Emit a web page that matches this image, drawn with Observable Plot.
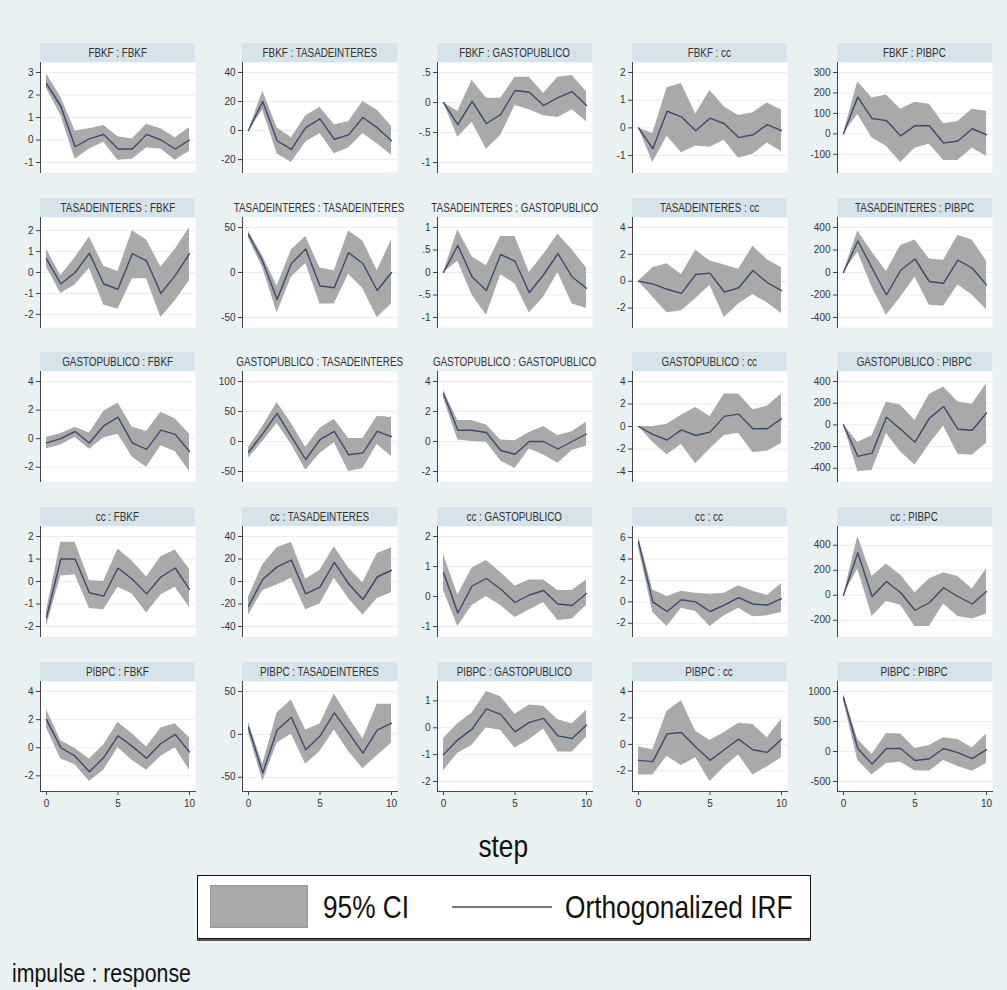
<!DOCTYPE html>
<html>
<head>
<meta charset="utf-8">
<script src="https://cdn.jsdelivr.net/npm/d3@7"></script>
<script src="https://cdn.jsdelivr.net/npm/@observablehq/plot@0.6"></script>
<style>
  html, body { margin: 0; padding: 0; background: #e9f1f3; }
  #chart {
    position: relative; width: 1007px; height: 990px; overflow: hidden;
    background: #e9f1f3;
    font-family: "Liberation Sans", Arial, sans-serif;
    color: #222;
  }
  /* narrow lettering, as in Stata's default graph font */
  .narrow { display: inline-block; white-space: nowrap; transform: scaleX(0.82); }
  .narrow.left { transform-origin: left center; }
  .strip {
    position: absolute; height: 19px; background: #d6e3eb;
    display: flex; justify-content: center; align-items: center;
    font-size: 12px; color: #333; white-space: nowrap;
  }
  .strip.bare { background: transparent; }
  .panel { position: absolute; }
  .panel svg { overflow: visible; }
</style>
</head>
<body>
<div id="chart"></div>
<script>
// Orthogonalized impulse responses, steps 0..10, one row per response variable
const steps = [0, 1, 2, 3, 4, 5, 6, 7, 8, 9, 10];
const variables = ["FBKF", "TASADEINTERES", "GASTOPUBLICO", "cc", "PIBPC"];

// impulse: FBKF
const irfFBKF = [
  [2.5, 1.5, -0.3, 0.05, 0.25, -0.4, -0.4, 0.25, 0.0, -0.4, 0.0],
  [0, 20, -7, -13, 2, 8, -6, -3, 9, 2, -7],
  [0, -0.37, 0.02, -0.35, -0.2, 0.2, 0.17, -0.05, 0.08, 0.18, -0.05],
  [0, -0.75, 0.6, 0.4, -0.1, 0.35, 0.15, -0.35, -0.25, 0.12, -0.1],
  [0, 180, 75, 65, -10, 40, 40, -45, -35, 25, -5]
];
const loFBKF = [
  [2.3, 1.1, -0.85, -0.4, -0.1, -0.9, -0.85, -0.35, -0.4, -0.9, -0.5],
  [0, 14, -16, -22, -8, -2, -16, -12, -2, -9, -17],
  [0, -0.58, -0.33, -0.78, -0.55, -0.05, -0.12, -0.22, -0.25, -0.12, -0.32],
  [0, -1.25, -0.3, -0.9, -0.65, -0.7, -0.45, -1.1, -0.95, -0.55, -0.85],
  [0, 95, -20, -60, -140, -70, -50, -130, -130, -70, -110]
];
const hiFBKF = [
  [2.95, 1.9, 0.4, 0.5, 0.65, 0.15, 0.05, 0.7, 0.5, 0.1, 0.55],
  [0, 27, 2, -5, 10, 16, 4, 6, 20, 14, 3],
  [0, -0.15, 0.37, 0.07, 0.07, 0.42, 0.42, 0.15, 0.42, 0.45, 0.18],
  [0, -0.2, 1.45, 1.6, 0.5, 1.35, 0.75, 0.45, 0.55, 0.9, 0.65],
  [0, 255, 175, 190, 120, 155, 145, 50, 60, 120, 110]
];

// impulse: TASADEINTERES
const irfTASA = [
  [0.65, -0.55, 0.0, 0.92, -0.55, -0.8, 0.9, 0.55, -1.0, -0.15, 0.9],
  [42, 12, -30, 10, 26, -15, -17, 22, 10, -20, 0],
  [0, 0.6, -0.1, -0.4, 0.4, 0.25, -0.45, -0.05, 0.42, -0.1, -0.35],
  [0, -0.2, -0.6, -0.9, 0.5, 0.6, -0.8, -0.5, 0.8, -0.1, -0.7],
  [0, 280, 40, -200, 20, 120, -80, -95, 110, 40, -110]
];
const loTASA = [
  [0.25, -1.0, -0.6, 0.2, -1.55, -1.75, -0.3, -0.3, -2.15, -1.35, -0.4],
  [38, 5, -45, -5, 10, -35, -35, -2, -18, -50, -35],
  [0, 0.25, -0.5, -0.95, -0.05, -0.25, -0.9, -0.55, 0.0, -0.7, -0.8],
  [0, -1.2, -2.35, -2.2, -1.3, -0.3, -2.7, -1.7, -1.0, -1.6, -2.4],
  [0, 180, -130, -380, -220, -40, -290, -300, -110, -200, -330]
];
const hiTASA = [
  [1.1, -0.15, 0.7, 1.7, 0.3, 0.05, 2.0, 1.55, 0.25, 1.1, 2.15],
  [46, 18, -15, 25, 40, 5, 2, 46, 35, 2, 36],
  [0, 0.95, 0.35, 0.15, 0.8, 0.8, 0.0, 0.4, 0.85, 0.5, 0.1],
  [0, 1.0, 1.3, 0.5, 2.3, 1.5, 1.2, 0.9, 2.6, 1.6, 1.0],
  [0, 370, 180, 10, 240, 290, 120, 110, 330, 290, 100]
];

// impulse: GASTOPUBLICO
const irfGASTO = [
  [-0.3, 0.0, 0.5, -0.3, 0.9, 1.5, -0.3, -0.75, 0.6, 0.3, -0.9],
  [-18, 13, 47, 8, -30, 3, 17, -22, -19, 17, 8],
  [3.2, 0.75, 0.75, 0.6, -0.6, -0.85, 0.0, 0.0, -0.5, 0.0, 0.5],
  [0, -0.7, -1.2, -0.3, -0.8, -0.5, 0.9, 1.1, -0.2, -0.2, 0.7],
  [0, -290, -260, 70, -40, -160, 60, 170, -40, -50, 110]
];
const loGASTO = [
  [-0.7, -0.45, 0.1, -0.75, 0.05, 0.3, -1.3, -2.0, -0.5, -0.9, -2.3],
  [-28, 0, 30, -5, -48, -20, -2, -50, -45, -5, -25],
  [2.9, 0.1, 0.0, -0.05, -1.3, -1.8, -0.5, -0.9, -1.45, -0.6, -0.3],
  [0, -1.4, -2.5, -1.6, -3.3, -2.0, -0.8, -0.6, -2.3, -2.2, -1.5],
  [0, -430, -420, -80, -250, -370, -180, -10, -270, -280, -170]
];
const hiGASTO = [
  [0.1, 0.35, 0.8, 0.4, 1.9, 2.5, 0.8, 0.5, 1.85, 1.4, 0.3],
  [-10, 25, 65, 30, -10, 22, 37, 5, 5, 42, 40],
  [3.4, 1.4, 1.4, 1.1, 0.1, 0.05, 0.6, 1.0, 0.4, 0.65, 1.3],
  [0, 0.0, 0.2, 1.0, 1.7, 0.9, 2.9, 2.9, 1.5, 1.8, 2.9],
  [0, -160, -100, 210, 180, 40, 280, 350, 210, 190, 380]
];

// impulse: cc
const irfCC = [
  [-1.6, 1.0, 1.0, -0.5, -0.65, 0.6, 0.1, -0.55, 0.2, 0.6, -0.35],
  [-22, 2, 13, 19, -11, -5, 17, -2, -16, 4, 10],
  [0.8, -0.55, 0.35, 0.6, 0.25, -0.2, 0.05, 0.2, -0.25, -0.3, 0.1],
  [5.6, 0.0, -0.9, 0.2, 0.0, -0.9, -0.3, 0.4, -0.2, -0.3, 0.3],
  [0, 340, -10, 110, 20, -120, -60, 60, -10, -70, 30]
];
const loCC = [
  [-2.0, 0.25, 0.3, -1.2, -1.25, -0.25, -0.55, -1.4, -0.6, -0.25, -1.15],
  [-30, -8, -3, 3, -25, -20, 3, -15, -30, -15, -10],
  [0.2, -1.0, -0.3, 0.0, -0.3, -0.7, -0.45, -0.2, -0.8, -0.75, -0.3],
  [5.1, -1.0, -2.3, -0.6, -0.9, -2.3, -1.3, -0.6, -1.4, -1.3, -1.0],
  [0, 210, -170, -50, -80, -250, -250, -70, -170, -190, -150]
];
const hiCC = [
  [-1.3, 1.75, 1.75, 0.05, 0.0, 1.45, 0.9, 0.2, 1.1, 1.4, 0.55],
  [-14, 15, 30, 35, 2, 10, 31, 12, -1, 25, 30],
  [1.4, 0.05, 0.95, 1.2, 0.8, 0.35, 0.55, 0.55, 0.2, 0.2, 0.55],
  [6.1, 1.1, 0.5, 1.0, 0.8, 0.7, 0.8, 1.5, 1.0, 0.6, 1.7],
  [0, 470, 150, 250, 160, 20, 130, 180, 150, 50, 210]
];

// impulse: PIBPC
const irfPIBPC = [
  [2.0, 0.0, -0.6, -1.7, -0.7, 0.85, 0.1, -0.75, 0.3, 0.95, -0.3],
  [8, -45, 5, 20, -18, -2, 25, 2, -22, 5, 13],
  [-1.0, -0.45, -0.05, 0.7, 0.5, -0.15, 0.2, 0.35, -0.3, -0.4, 0.1],
  [-1.2, -1.3, 0.8, 0.9, -0.2, -1.2, -0.4, 0.4, -0.4, -0.6, 0.4],
  [900, 50, -210, 50, 50, -150, -120, 50, -20, -120, 30]
];
const loPIBPC = [
  [1.4, -0.8, -1.2, -2.4, -1.6, 0.0, -0.9, -1.6, -0.6, 0.0, -1.6],
  [2, -55, -10, 0, -35, -20, 5, -20, -40, -25, -10],
  [-1.6, -0.95, -0.65, 0.0, -0.1, -0.75, -0.45, -0.05, -0.9, -0.9, -0.35],
  [-2.3, -2.3, -0.9, -1.6, -1.0, -2.8, -1.7, -0.8, -2.3, -1.7, -1.0],
  [840, -150, -390, -200, -180, -320, -330, -150, -250, -330, -200]
];
const hiPIBPC = [
  [2.7, 0.5, -0.05, -0.8, 0.2, 1.8, 1.0, 0.05, 1.4, 1.7, 0.7],
  [14, -35, 25, 40, 5, 12, 47, 20, -5, 35, 35],
  [-0.4, 0.15, 0.55, 1.35, 1.15, 0.5, 0.85, 0.8, 0.3, 0.15, 0.65],
  [-0.2, -0.4, 2.5, 3.3, 1.0, 0.3, 0.9, 1.6, 1.5, 0.5, 1.9],
  [960, 200, -50, 300, 290, 50, 100, 230, 200, 60, 290]
];

// y-axis tick values per panel (rows = impulse, columns = response)
const yTicks = [
  [[-1, 0, 1, 2, 3], [-20, 0, 20, 40], [-1, -0.5, 0, 0.5], [-1, 0, 1, 2], [-100, 0, 100, 200, 300]],
  [[-2, -1, 0, 1, 2], [-50, 0, 50], [-1, -0.5, 0, 0.5, 1], [-2, 0, 2, 4], [-400, -200, 0, 200, 400]],
  [[-2, 0, 2, 4], [-50, 0, 50, 100], [-2, 0, 2, 4], [-4, -2, 0, 2, 4], [-400, -200, 0, 200, 400]],
  [[-2, -1, 0, 1, 2], [-40, -20, 0, 20, 40], [-1, 0, 1, 2], [-2, 0, 2, 4, 6], [-200, 0, 200, 400]],
  [[-2, 0, 2, 4], [-50, 0, 50], [-2, -1, 0, 1], [-2, 0, 2, 4], [-500, 0, 500, 1000]]
];
const xTicks = [0, 5, 10];

const irf = [irfFBKF, irfTASA, irfGASTO, irfCC, irfPIBPC];
const lower = [loFBKF, loTASA, loGASTO, loCC, loPIBPC];
const upper = [hiFBKF, hiTASA, hiGASTO, hiCC, hiPIBPC];

// grid layout of the 5x5 panels
const colLeft = [40, 242, 437, 632, 837];
const rowTop = [43, 198, 352, 507, 662];
const plotW = 155, plotH = 110, stripH = 19, axisRoom = 40;

// Stata-style numbers: ".5", "-.5"
const fmt = d => String(d).replace(/^(-?)0\./, "$1.");

const chart = document.getElementById("chart");

variables.forEach((imp, i) => {
  variables.forEach((resp, j) => {
    const rows = steps.map((s, k) => ({
      step: s, irf: irf[i][j][k], lo: lower[i][j][k], hi: upper[i][j][k]
    }));
    const ticks = yTicks[i][j];
    const yMin = Math.min(ticks[0], d3.min(rows, d => d.lo));
    const yMax = Math.max(ticks[ticks.length - 1], d3.max(rows, d => d.hi));
    const last = i === variables.length - 1;

    // header strip; a title wider than the strip is drawn without the shaded box
    const strip = document.createElement("div");
    strip.className = "strip";
    strip.style.left = colLeft[j] + "px";
    strip.style.top = rowTop[i] + "px";
    strip.style.width = plotW + "px";
    const label = document.createElement("span");
    label.className = "narrow";
    label.textContent = `${imp} : ${resp}`;
    strip.appendChild(label);
    chart.appendChild(strip);
    if (label.getBoundingClientRect().width > plotW - 2) strip.classList.add("bare");

    const svg = Plot.plot({
      width: axisRoom + plotW,
      height: plotH + (last ? 30 : 0),
      marginLeft: axisRoom, marginRight: 0, marginTop: 0,
      marginBottom: last ? 30 : 0,
      style: {
        background: "transparent", overflow: "visible",
        fontFamily: '"Liberation Sans", Arial, sans-serif',
        fontSize: "10px", color: "#333"
      },
      x: {domain: [0, 10], insetLeft: 6, insetRight: 6, axis: null},
      y: {domain: [yMin, yMax], insetTop: 10, insetBottom: 10, axis: null},
      marks: [
        Plot.frame({fill: "white", stroke: "none"}),
        Plot.gridY(ticks, {stroke: "#e6eef1", strokeOpacity: 1, strokeWidth: 1}),
        Plot.areaY(rows, {x: "step", y1: "lo", y2: "hi", fill: "#a9a9a9"}),
        Plot.lineY(rows, {x: "step", y: "irf", stroke: "#3c4a6c", strokeWidth: 1.4}),
        Plot.axisY(ticks, {tickSize: 4, tickPadding: 3, tickFormat: fmt, stroke: "#444", fill: "#333", label: null}),
        Plot.frame({anchor: "left", stroke: "#444"}),
        last ? Plot.axisX(xTicks, {tickSize: 4, tickPadding: 4, tickFormat: fmt, stroke: "#444", fill: "#333", label: null}) : null,
        last ? Plot.frame({anchor: "bottom", stroke: "#444"}) : null
      ]
    });
    const holder = document.createElement("div");
    holder.className = "panel";
    holder.style.left = (colLeft[j] - axisRoom) + "px";
    holder.style.top = (rowTop[i] + stripH) + "px";
    holder.appendChild(svg);
    chart.appendChild(holder);
  });
});

// shared x-axis title
const stepTitle = document.createElement("div");
Object.assign(stepTitle.style, {
  position: "absolute", left: "0px", width: "1007px", top: "826px",
  textAlign: "center", fontSize: "32px", color: "#111", lineHeight: "40px"
});
stepTitle.innerHTML = `<span class="narrow">step</span>`;
chart.appendChild(stepTitle);

// legend
const legend = document.createElement("div");
Object.assign(legend.style, {
  position: "absolute", left: "197px", top: "875px", width: "612px", height: "62px",
  background: "white", border: "1.5px solid #111", boxShadow: "0 2px 0 #555"
});
legend.innerHTML = `
  <div style="position:absolute;left:12px;top:9px;width:98px;height:43px;background:#a9a9a9;border:1px solid #999;box-sizing:border-box"></div>
  <div style="position:absolute;left:125px;top:8px;height:46px;line-height:46px;font-size:32px;color:#111;white-space:nowrap"><span class="narrow left">95% CI</span></div>
  <svg style="position:absolute;left:254px;top:29px" width="100" height="4"><line x1="0" y1="2" x2="100" y2="2" stroke="#3c4a6c" stroke-width="1.6"/></svg>
  <div style="position:absolute;left:367px;top:8px;height:46px;line-height:46px;font-size:32px;color:#111;white-space:nowrap"><span class="narrow left">Orthogonalized IRF</span></div>`;
chart.appendChild(legend);

// caption
const caption = document.createElement("div");
Object.assign(caption.style, {
  position: "absolute", left: "12px", top: "958px", fontSize: "26px", color: "#111", lineHeight: "30px", whiteSpace: "nowrap"
});
caption.innerHTML = `<span class="narrow left">impulse : response</span>`;
chart.appendChild(caption);
</script>
</body>
</html>
